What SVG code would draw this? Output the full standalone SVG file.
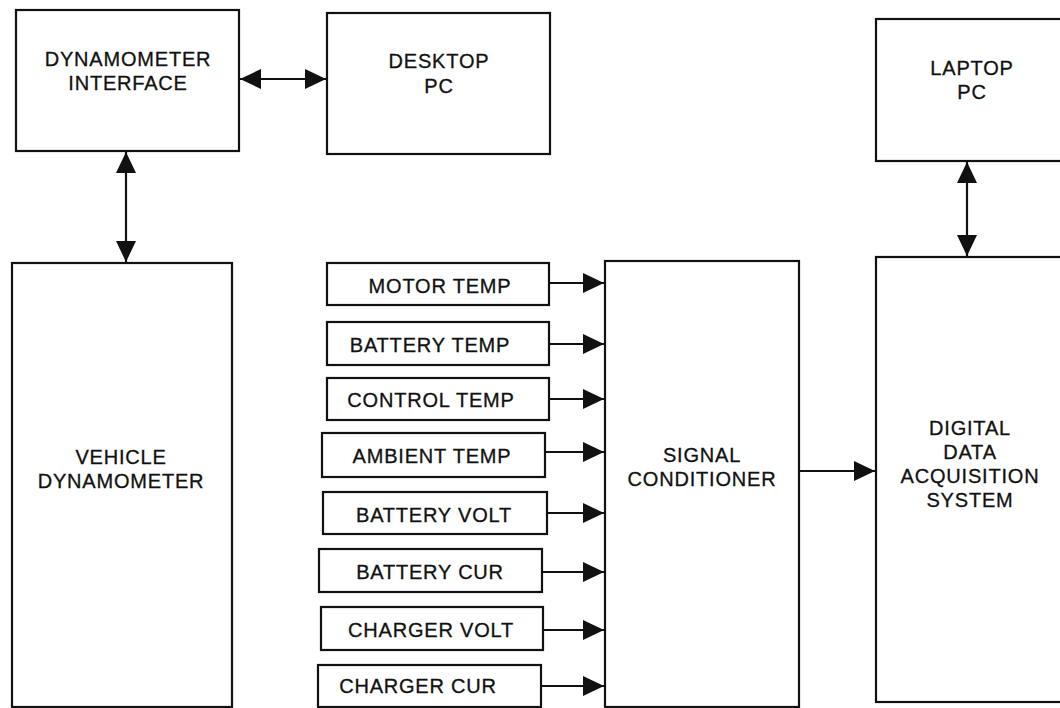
<svg xmlns="http://www.w3.org/2000/svg" width="1060" height="708" viewBox="0 0 1060 708">
<style>
.box{fill:#fff;stroke:#111;stroke-width:2.2}
.t{font-family:"Liberation Sans",Arial,sans-serif;font-size:20px;letter-spacing:0.8px;fill:#111;stroke:#111;stroke-width:0.3;text-anchor:middle}
.c{stroke:#111;stroke-width:2.2;fill:none}
</style>
<defs>
<marker id="ah" markerUnits="userSpaceOnUse" markerWidth="21" markerHeight="20" refX="21" refY="10" orient="auto-start-reverse">
<path d="M0,0 L21,10 L0,20 z" fill="#111"/>
</marker>
</defs>
<rect width="1060" height="708" fill="#fff"/>
<g id="dyn-interface"><rect class="box" x="16" y="10" width="223" height="141"/><text class="t" x="128" y="66">DYNAMOMETER</text><text class="t" x="128" y="90">INTERFACE</text></g>
<g id="desktop-pc"><rect class="box" x="327" y="13" width="223" height="141"/><text class="t" x="439" y="68">DESKTOP</text><text class="t" x="439" y="93">PC</text></g>
<g id="laptop-pc"><rect class="box" x="876" y="19" width="190" height="142"/><text class="t" x="972" y="75">LAPTOP</text><text class="t" x="972" y="99">PC</text></g>
<g id="vehicle-dyn"><rect class="box" x="12" y="263" width="220" height="444"/><text class="t" x="121" y="464">VEHICLE</text><text class="t" x="121" y="488">DYNAMOMETER</text></g>
<g id="signal-cond"><rect class="box" x="605" y="261" width="194" height="446"/><text class="t" x="702" y="462">SIGNAL</text><text class="t" x="702" y="486">CONDITIONER</text></g>
<g id="daq"><rect class="box" x="876" y="257" width="190" height="445"/><text class="t" x="970" y="435">DIGITAL</text><text class="t" x="970" y="459">DATA</text><text class="t" x="970" y="483">ACQUISITION</text><text class="t" x="970" y="507">SYSTEM</text></g>
<g id="motor-temp"><rect class="box" x="327" y="263" width="222" height="42"/><text class="t" x="440" y="293">MOTOR TEMP</text></g>
<g id="battery-temp"><rect class="box" x="327" y="322" width="222" height="43"/><text class="t" x="430" y="352">BATTERY TEMP</text></g>
<g id="control-temp"><rect class="box" x="327" y="378" width="222" height="42"/><text class="t" x="431" y="407">CONTROL TEMP</text></g>
<g id="ambient-temp"><rect class="box" x="322" y="433" width="223" height="44"/><text class="t" x="432" y="463">AMBIENT TEMP</text></g>
<g id="battery-volt"><rect class="box" x="323" y="492" width="224" height="42"/><text class="t" x="434" y="522">BATTERY VOLT</text></g>
<g id="battery-cur"><rect class="box" x="319" y="549" width="223" height="43"/><text class="t" x="430" y="579">BATTERY CUR</text></g>
<g id="charger-volt"><rect class="box" x="321" y="607" width="222" height="43"/><text class="t" x="431" y="637">CHARGER VOLT</text></g>
<g id="charger-cur"><rect class="box" x="318" y="665" width="223" height="42"/><text class="t" x="418" y="693">CHARGER CUR</text></g>
<g id="connectors">
<line class="c" x1="240" y1="79" x2="326" y2="79" marker-start="url(#ah)" marker-end="url(#ah)"/>
<line class="c" x1="126" y1="152" x2="126" y2="262" marker-start="url(#ah)" marker-end="url(#ah)"/>
<line class="c" x1="967" y1="162" x2="967" y2="256" marker-start="url(#ah)" marker-end="url(#ah)"/>
<line class="c" x1="799" y1="471" x2="875" y2="471" marker-end="url(#ah)"/>
<line class="c" x1="549" y1="283" x2="604" y2="283" marker-end="url(#ah)"/>
<line class="c" x1="549" y1="344" x2="604" y2="344" marker-end="url(#ah)"/>
<line class="c" x1="549" y1="399" x2="604" y2="399" marker-end="url(#ah)"/>
<line class="c" x1="545" y1="452" x2="604" y2="452" marker-end="url(#ah)"/>
<line class="c" x1="547" y1="513" x2="604" y2="513" marker-end="url(#ah)"/>
<line class="c" x1="542" y1="572" x2="604" y2="572" marker-end="url(#ah)"/>
<line class="c" x1="543" y1="630" x2="604" y2="630" marker-end="url(#ah)"/>
<line class="c" x1="541" y1="686" x2="604" y2="686" marker-end="url(#ah)"/>
</g>
</svg>
